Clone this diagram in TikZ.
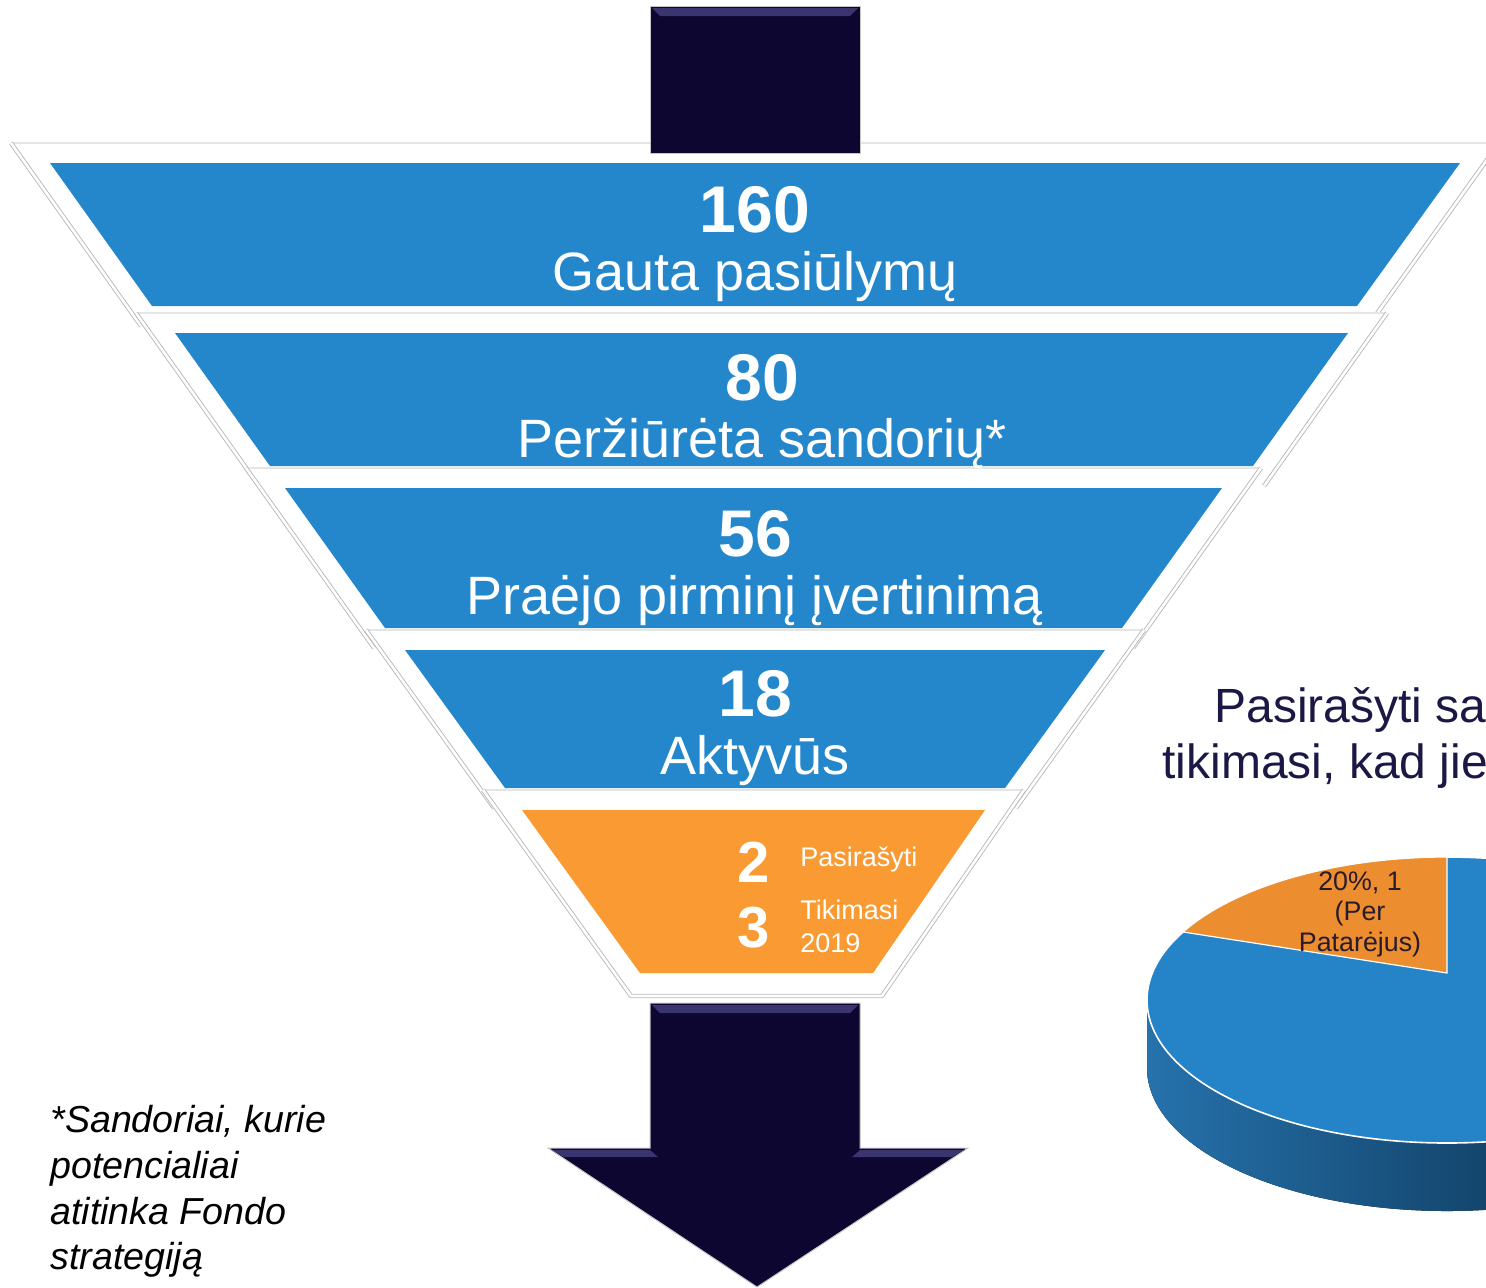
\documentclass[tikz,border=0pt]{standalone}
\usepackage{fontspec}
\setmainfont{Liberation Sans}
\definecolor{funnelblue}{RGB}{36,135,204}
\definecolor{funnelorange}{RGB}{249,154,51}
\definecolor{arrownavy}{RGB}{13,6,48}
\definecolor{bevelnavy}{RGB}{58,52,112}
\definecolor{pieblue}{RGB}{37,131,199}
\definecolor{pieorange}{RGB}{236,141,47}
\definecolor{sidelight}{RGB}{38,114,172}
\definecolor{sidedark}{RGB}{5,35,60}
\definecolor{titlenavy}{RGB}{27,24,69}
\definecolor{pietext}{RGB}{40,28,44}
\tikzstyle{shell} = [fill=white]
\tikzstyle{rim} = [draw=gray!55, double=white, double distance=1.3pt, line width=0.45pt, line join=round]
\tikzstyle{lip} = [draw=gray!20, line width=0.6pt]
\tikzstyle{band} = [fill=funnelblue]
\tikzstyle{lastband} = [fill=funnelorange]
\tikzstyle{bandnum} = [text=white, font=\bfseries\fontsize{33}{36}\selectfont, anchor=base, inner sep=0pt]
\tikzstyle{bandtext} = [text=white, font=\fontsize{27}{30}\selectfont, anchor=base, inner sep=0pt]
\tikzstyle{smallnum} = [text=white, font=\bfseries\fontsize{29}{32}\selectfont, anchor=base west, inner sep=0pt]
\tikzstyle{smalltext} = [text=white, font=\fontsize{13.5}{16.5}\selectfont, anchor=base west, inner sep=0pt]
\tikzstyle{bigarrow} = [fill=arrownavy, draw=gray!45, line width=0.5pt]
\tikzstyle{bevel} = [fill=bevelnavy]
\tikzstyle{pietitle} = [text=titlenavy, font=\fontsize{24}{28}\selectfont, anchor=base west, inner sep=0pt]
\tikzstyle{pielabel} = [text=pietext, font=\fontsize{13.4}{15}\selectfont, anchor=base, inner sep=0pt]
\tikzstyle{footnote} = [font=\itshape\fontsize{18.8}{23}\selectfont, anchor=base west, inner sep=0pt]

\begin{document}
\begin{tikzpicture}[x=0.5pt, y=-0.5pt]
\useasboundingbox (0,0) rectangle (1486,1287);
\clip (0,0) rectangle (1486,1287);

% Piltuvas
\fill[shell] (11,143) -- (1499,143) -- (1368,326) -- (141,326) -- cycle;
\draw[lip] (11,143) -- (1499,143);
\draw[rim] (11,143) -- (141,326);
\draw[rim] (1499,143) -- (1368,326);
\path[bigarrow] (650,6) rectangle (860,153);
\fill[bevel] (652,8) -- (858,8) -- (850,16) -- (660,16) -- cycle;
\fill[band] (50,163) -- (1460,163) -- (1357,306) -- (152,306) -- cycle;

\fill[shell] (136,313) -- (1387,313) -- (1264,486) -- (259,486) -- cycle;
\draw[lip] (136,313) -- (1387,313);
\draw[rim] (136,313) -- (259,486);
\draw[rim] (1387,313) -- (1264,486);
\fill[band] (175,333) -- (1348,333) -- (1253,466) -- (270,466) -- cycle;

\fill[shell] (246,468) -- (1261,468) -- (1133,648) -- (374,648) -- cycle;
\draw[lip] (246,468) -- (1261,468);
\draw[rim] (246,468) -- (374,648);
\draw[rim] (1261,468) -- (1133,648);
\fill[band] (285,488) -- (1222,488) -- (1122,628) -- (385,628) -- cycle;

\fill[shell] (366,630) -- (1144,630) -- (1016,808) -- (494,808) -- cycle;
\draw[lip] (366,630) -- (1144,630);
\draw[rim] (366,630) -- (494,808);
\draw[rim] (1144,630) -- (1016,808);
\fill[band] (405,650) -- (1105,650) -- (1005,788) -- (505,788) -- cycle;

\fill[shell] (483,790) -- (1024,790) -- (882,996) -- (631,996) -- cycle;
\draw[lip] (483,790) -- (1024,790);
\draw[rim] (483,790) -- (631,996) -- (882,996) -- (1024,790);
\fill[lastband] (522,810) -- (985,810) -- (873,973) -- (640,973) -- cycle;

% Tekstai
\node (num1) [bandnum] at (755,232) {160};
\node (txt1) [bandtext] at (755,290) {Gauta pasiūlymų};
\node (num2) [bandnum] at (762,400) {80};
\node (txt2) [bandtext] at (762,457) {Peržiūrėta sandorių*};
\node (num3) [bandnum] at (755,556) {56};
\node (txt3) [bandtext] at (755,614) {Praėjo pirminį įvertinimą};
\node (num4) [bandnum] at (755,716) {18};
\node (txt4) [bandtext] at (755,774) {Aktyvūs};
\node (signed) [smallnum] at (737,882) {2};
\node (signedtxt) [smalltext] at (800,866) {Pasirašyti};
\node (hoped) [smallnum] at (737,947) {3};
\node (hopedtxt) [smalltext, anchor=south west, align=left] at (800,953) {Tikimasi\\2019};

% Rodyklė žemyn
\path[bigarrow] (650,1003) -- (860,1003) -- (860,1148) -- (968,1148) -- (757,1287) -- (548,1148) -- (650,1148) -- cycle;
\fill[bevel] (652,1005) -- (858,1005) -- (850,1013) -- (660,1013) -- cycle;
\fill[bevel] (552,1150) -- (650,1150) -- (658,1157) -- (564,1157) -- cycle;
\fill[bevel] (860,1150) -- (964,1150) -- (952,1157) -- (852,1157) -- cycle;

% Pastaba
\node (note1) [footnote] at (50,1132) {*Sandoriai, kurie};
\node (note2) [footnote] at (50,1178) {potencialiai};
\node (note3) [footnote] at (50,1224) {atitinka Fondo};
\node (note4) [footnote] at (50,1269) {strategiją};

% Skritulinė diagrama
\node (title1) [pietitle] at (1214,722) {Pasirašyti sa};
\node (title2) [pietitle] at (1162,778) {tikimasi, kad jie};
\fill[left color=sidelight, right color=sidedark] (1147,1000) arc[start angle=180, end angle=0, x radius=300, y radius=143] -- (1747,1068) arc[start angle=0, end angle=180, x radius=300, y radius=143] -- cycle;
\filldraw[fill=pieblue, draw=white, line width=0.8pt] (1447,1000) ellipse [x radius=300, y radius=143];
\filldraw[fill=pieorange, draw=white, line width=0.6pt] (1447,973) -- (1447,857) arc[start angle=270, end angle=208.4, x radius=300, y radius=143] -- cycle;
\node (share1) [pielabel] at (1360,890) {20\%, 1};
\node (share2) [pielabel] at (1360,920) {(Per};
\node (share3) [pielabel] at (1360,951) {Patarėjus)};

\end{tikzpicture}
\end{document}
